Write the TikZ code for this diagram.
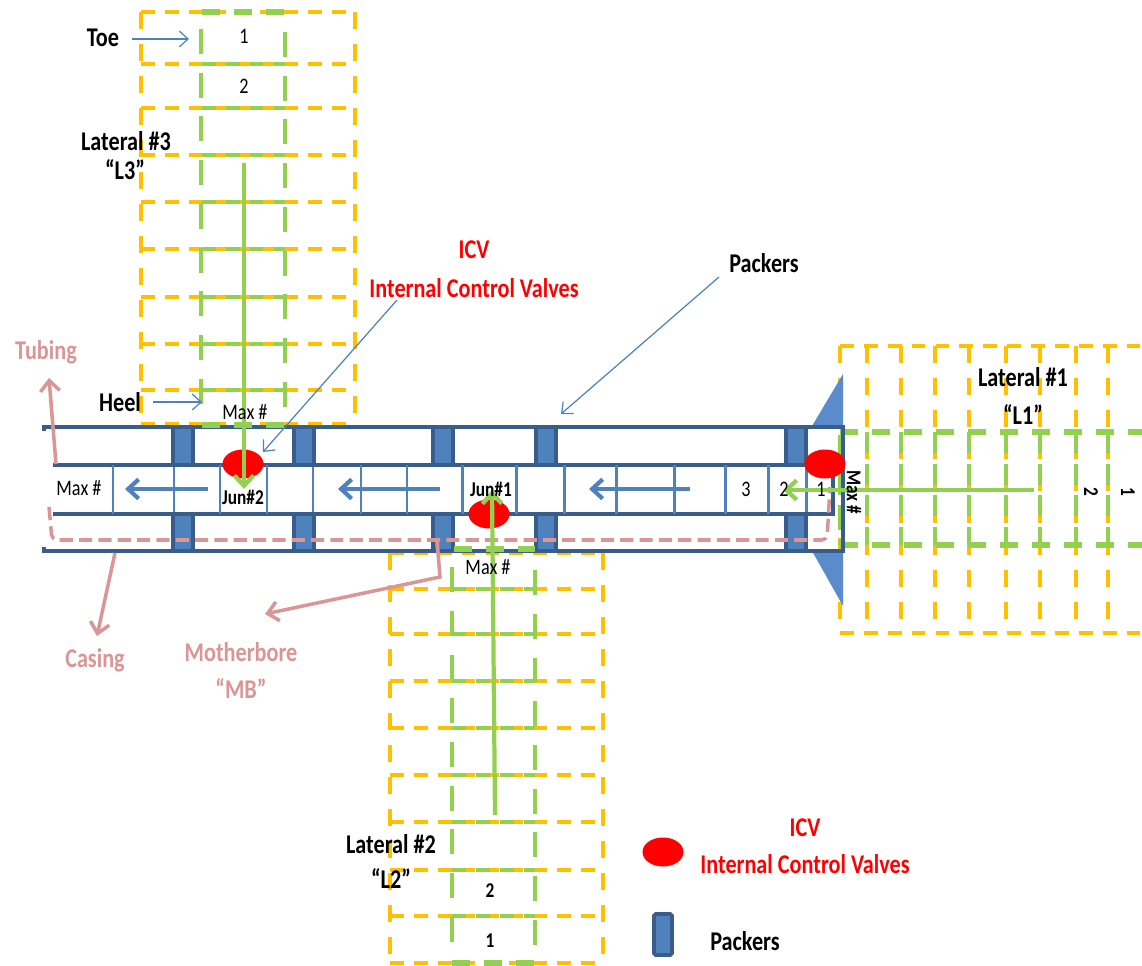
\documentclass[tikz,border=0pt]{standalone}
\usepackage{fontspec}
\setmainfont{Carlito}[FakeStretch=0.82]
\usepackage{xcolor}
\usetikzlibrary{arrows.meta,shapes.geometric}
\definecolor{casingblue}{HTML}{385D8A}
\definecolor{packerblue}{HTML}{4F81BD}
\definecolor{wedgeblue}{HTML}{5A8CCB}
\definecolor{zoneyellow}{HTML}{FFC000}
\definecolor{zonegreen}{HTML}{92D050}
\definecolor{tagpink}{HTML}{D99694}
\tikzset{
  yellowrow/.style={zoneyellow,line width=2.2pt,dash pattern=on 7.8pt off 5.8pt},
  yellowside/.style={zoneyellow,line width=2.2pt,dash pattern=on 9.6pt off 8.6pt},
  greenrow/.style={zonegreen,line width=2.2pt,dash pattern=on 7.8pt off 5.8pt},
  greenside/.style={zonegreen,line width=2.2pt,dash pattern=on 14.2pt off 10.7pt},
  greenedge/.style={zonegreen,line width=3.2pt,dash pattern=on 10.2pt off 8pt},
  packer/.style={draw=casingblue,fill=packerblue,line width=2.2pt},
  valve/.style={ellipse,fill=red,minimum width=0.82cm,minimum height=0.58cm,inner sep=0pt},
  thinarrow/.style={packerblue,line width=0.7pt,-{Straight Barb[length=5pt,width=9pt]}},
  flowarrow/.style={packerblue,line width=2.4pt,-{Straight Barb[length=6pt,width=11pt]}},
  greenarrow/.style={zonegreen,line width=2.4pt,-{Straight Barb[length=6pt,width=11pt]}},
  pinkarrow/.style={tagpink,line width=2pt,-{Straight Barb[length=6pt,width=11pt]}},
  plainlabel/.style={font=\fontsize{12.6}{15}\selectfont,inner sep=0pt},
  boldlabel/.style={font=\fontsize{15.4}{18}\selectfont\bfseries,inner sep=0pt},
  smallbold/.style={font=\fontsize{12}{14}\selectfont\bfseries,inner sep=0pt},
  redlabel/.style={boldlabel,text=red},
  pinklabel/.style={boldlabel,text=tagpink}
}
\begin{document}
\begin{tikzpicture}[x=0.02cm,y=-0.02cm]
  \useasboundingbox (0,0) rectangle (1142,966);
  \clip (0,0) rectangle (1142,966);
  \foreach \rowy in {12,64,108,155,202,249,297,344,390,424}
    \draw[yellowrow] (141,\rowy)--(355,\rowy);
  \draw[yellowside] (141,12)--(141,424) (355,12)--(355,424);
  \foreach \rowy in {64,108,155,202,249,297,344,390}
    \draw[greenrow] (202,\rowy)--(285,\rowy);
  \draw[greenside] (201,29)--(201,406) (285,32)--(285,407);
  \draw[greenedge] (202,12)--(285,12);
  \foreach \rowy in {553,589,634,681,728,775,822,870,916,963}
    \draw[yellowrow] (390,\rowy)--(603,\rowy);
  \draw[yellowside] (390,553)--(390,965) (603,553)--(603,965);
  \foreach \rowy in {589,634,681,728,775,822,870,916}
    \draw[greenrow] (452,\rowy)--(535,\rowy);
  \draw[greenside] (452,567)--(452,942) (535,570)--(535,945);
  \draw[greenedge] (452,963)--(535,963);
  \draw[yellowrow] (840,346)--(1142,346) (840,633)--(1142,633);
  \foreach \colx in {840,867,901,935,969,1006,1040,1076,1108}
    \draw[yellowside] (\colx,346)--(\colx,633);
  \foreach \colx in {867,901,935,969,1006,1040,1076,1108}
    \draw[zonegreen,line width=2.2pt,dash pattern=on 12pt off 6pt] (\colx,432)--(\colx,545);
  \draw[zonegreen,line width=2.2pt,dash pattern=on 14pt off 6pt] (840,435)--(840,545);
  \draw[greenedge] (840,432)--(1142,432) (840,545)--(1142,545);
  \fill[wedgeblue] (843,374)--(843,426)--(812,426)--cycle (843,606)--(843,551)--(812,551)--cycle;
  \draw[casingblue,line width=2.2pt] (44,431)--(44,427)--(843,427)--(843,551)--(44,551)--(44,547);
  \draw[casingblue,line width=2.2pt] (53,465)--(833,465)--(833,514)--(53,514);
  \foreach \colx in {113,174,220,267,313,361,407,462,516,564,616,674,725,768,806}
    \draw[packerblue,line width=1.7pt] (\colx,465)--(\colx,514);
  \foreach \colx in {183,304,443,546,796}
    \draw[packer] (\colx-10,427) rectangle (\colx+10,465) (\colx-10,514) rectangle (\colx+10,551);
  \draw[greenedge] (202,425)--(285,425) (454,549)--(535,549);
  \draw[flowarrow] (208,489) coordinate (flowAstart)--(125,489) coordinate (flowAend);
  \draw[flowarrow] (440,489) coordinate (flowBstart)--(338,489) coordinate (flowBend);
  \draw[flowarrow] (690,489) coordinate (flowCstart)--(589,489) coordinate (flowCend);
  \draw[tagpink,line width=2pt,dash pattern=on 7.5pt off 3.5pt,rounded corners=3pt]
    (49,507)--(52,540)--(827,540)--(830,487);
  \draw (243,464) node[valve] (valveB) {};
  \draw (489,514) node[valve] (valveA) {};
  \draw (825,464) node[valve] (valveC) {};
  \draw (663,852) node[valve] (valveKey) {};
  \draw[packer,rounded corners=1pt] (654,914) rectangle (672,955);
  \coordinate (latThree) at (244,163);
  \coordinate (latThreeTip) at (244,489);
  \coordinate (latTwo) at (495,815);
  \coordinate (latTwoTip) at (492,490);
  \coordinate (latOne) at (1034,490);
  \coordinate (latOneTip) at (783,490);
  \draw[greenarrow] (latThree)--(latThreeTip);
  \draw[greenarrow] (latTwo)--(latTwoTip);
  \draw[greenarrow] (latOne)--(latOneTip);
  \draw (103,38) node[boldlabel] (toe) {Toe};
  \draw (244,36) node[plainlabel] (zoneThreeA) {1};
  \draw (244,86) node[plainlabel] (zoneThreeB) {2};
  \draw (126,141) node[boldlabel] (lateralThree) {Lateral \#3};
  \draw (125,170) node[boldlabel] (tagThree) {“L3”};
  \draw (120,402) node[boldlabel] (heel) {Heel};
  \draw (245,412) node[plainlabel] (maxThree) {Max \#};
  \draw (474,250) node[redlabel] (icvTop) {ICV};
  \draw (474,288) node[redlabel] (icvName) {Internal Control Valves};
  \draw (764,263) node[boldlabel] (packersTop) {Packers};
  \draw (46,352) node[pinklabel] (tubing) {Tubing};
  \draw (79,488) node[plainlabel] (maxMain) {Max \#};
  \draw (243,497) node[smallbold] (junTwo) {Jun\#2};
  \draw (491,489) node[smallbold] (junOne) {Jun\#1};
  \draw (746,489) node[plainlabel] (zoneMainC) {3};
  \draw (784,489) node[plainlabel] (zoneMainB) {2};
  \draw (821,489) node[plainlabel] (zoneMainA) {1};
  \draw (854,492) node[smallbold,rotate=-90] (maxOne) {Max \#};
  \draw (1023,377) node[boldlabel] (lateralOne) {Lateral \#1};
  \draw (1023,415) node[boldlabel] (tagOne) {“L1”};
  \draw (1091,492) node[smallbold,rotate=-90] (zoneOneB) {2};
  \draw (1128,492) node[smallbold,rotate=-90] (zoneOneA) {1};
  \draw (488,567) node[plainlabel] (maxTwo) {Max \#};
  \draw (95,660) node[pinklabel] (casing) {Casing};
  \draw (241,652) node[pinklabel] (motherbore) {Motherbore};
  \draw (241,689) node[pinklabel] (tagMain) {“MB”};
  \draw (391,844) node[boldlabel] (lateralTwo) {Lateral \#2};
  \draw (391,879) node[boldlabel] (tagTwo) {“L2”};
  \draw (490,891) node[smallbold] (zoneTwoB) {2};
  \draw (490,941) node[smallbold] (zoneTwoA) {1};
  \draw (805,828) node[redlabel] (icvKey) {ICV};
  \draw (805,864) node[redlabel] (icvKeyName) {Internal Control Valves};
  \draw (745,941) node[boldlabel] (packersKey) {Packers};
  \coordinate (toeFoot) at (132,39);
  \coordinate (toeTip) at (189,39);
  \coordinate (heelFoot) at (153,402);
  \coordinate (heelTip) at (202,402);
  \coordinate (icvFoot) at (397,300);
  \coordinate (icvTip) at (263,452);
  \coordinate (packersFoot) at (719,277);
  \coordinate (packersTip) at (561,414);
  \coordinate (tubingFoot) at (56,464);
  \coordinate (tubingTip) at (49,378);
  \coordinate (casingFoot) at (115,553);
  \coordinate (casingTip) at (97,636);
  \coordinate (boreFoot) at (437,540);
  \coordinate (boreBend) at (440,577);
  \coordinate (boreTip) at (265,614);
  \draw[thinarrow] (toeFoot)--(toeTip);
  \draw[thinarrow] (heelFoot)--(heelTip);
  \draw[thinarrow] (icvFoot)--(icvTip);
  \draw[thinarrow] (packersFoot)--(packersTip);
  \draw[pinkarrow] (tubingFoot)--(tubingTip);
  \draw[pinkarrow] (casingFoot)--(casingTip);
  \draw[pinkarrow] (boreFoot)--(boreBend)--(boreTip);
\end{tikzpicture}
\end{document}
